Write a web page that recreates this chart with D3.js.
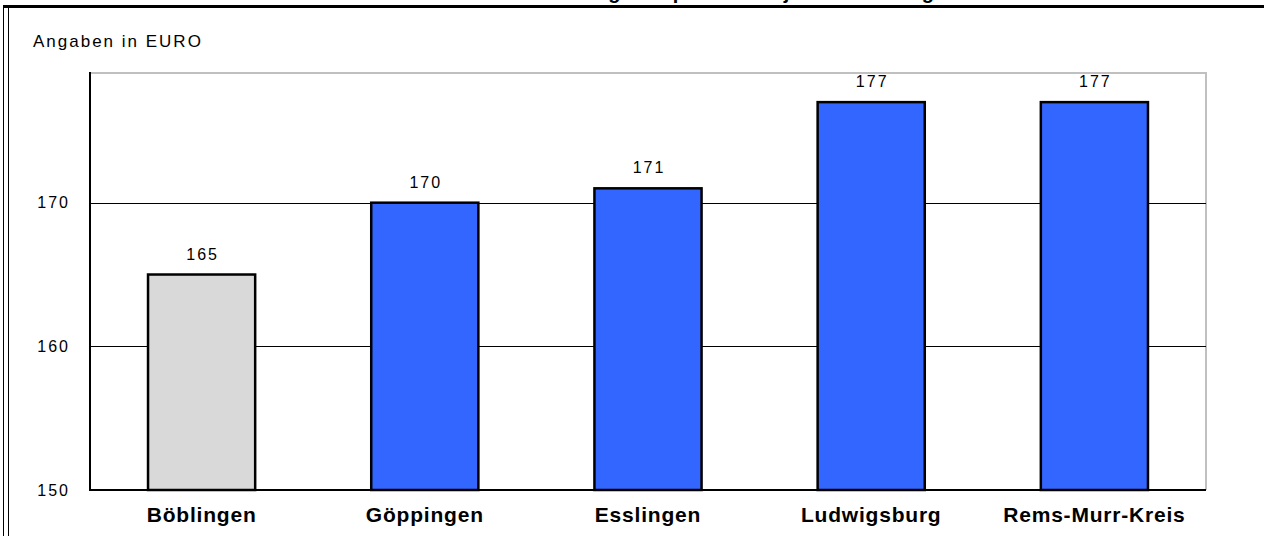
<!DOCTYPE html>
<html><head><meta charset="utf-8">
<script src="https://cdn.jsdelivr.net/npm/d3@7"></script>
<style>html,body{margin:0;padding:0;background:#fff;overflow:hidden}</style>
</head><body>
<svg id="c" width="1264" height="536"></svg>
<script>
const titleText = "Ausgaben pro Person je Kreis im Vergleich";
const unitLabel = "Angaben in EURO";
const categories = ["Böblingen","Göppingen","Esslingen","Ludwigsburg","Rems-Murr-Kreis"];
const values = [165,170,171,177,177];
const highlight = [true,false,false,false,false];
const yTicks = [150,160,170];

const FONT = "Liberation Sans, Arial, sans-serif";
const svg = d3.select("#c");
const L=90, R=1206, T=73, B=490;
const x = d3.scaleBand().domain(categories).range([L,R]).paddingInner(0.52).paddingOuter(0.26);
const y = d3.scaleLinear().domain([150,179]).range([B,T+0.4]);

// outer frame
svg.append("text").attr("x",775).attr("y",-1).attr("text-anchor","middle")
  .attr("font-family",FONT).attr("font-weight","bold").attr("font-size",20)
  .text(titleText);
svg.append("line").attr("x1",3).attr("x2",1264).attr("y1",6.5).attr("y2",6.5).attr("stroke","#000").attr("stroke-width",3);
svg.append("line").attr("x1",3.5).attr("x2",3.5).attr("y1",6).attr("y2",536).attr("stroke","#000").attr("stroke-width",1);
svg.append("line").attr("x1",8.5).attr("x2",8.5).attr("y1",8).attr("y2",536).attr("stroke","#000").attr("stroke-width",1);

svg.append("text").attr("x",33).attr("y",47).attr("font-family",FONT)
  .attr("font-size",17).attr("letter-spacing",2).attr("fill","#000").text(unitLabel);

// plot border
svg.append("line").attr("x1",L).attr("x2",R).attr("y1",T).attr("y2",T).attr("stroke","#c0c0c0").attr("stroke-width",2);
svg.append("line").attr("x1",R).attr("x2",R).attr("y1",T-1).attr("y2",B).attr("stroke","#c0c0c0").attr("stroke-width",2);

// gridlines
svg.append("g").selectAll("line").data(yTicks.filter(d=>d>150)).join("line")
  .attr("x1",L).attr("x2",R).attr("y1",d=>Math.round(y(d))+0.5).attr("y2",d=>Math.round(y(d))+0.5)
  .attr("stroke","#000").attr("stroke-width",1);

// y axis
const ya = svg.append("g").attr("transform",`translate(${L},0)`)
  .call(d3.axisLeft(y).tickValues(yTicks).tickSize(0).tickPadding(20).tickFormat(d3.format("d")));
ya.select(".domain").remove();
ya.selectAll("text").attr("font-family",FONT).attr("font-size",16).attr("letter-spacing",2).attr("fill","#000");
svg.append("line").attr("x1",L).attr("x2",L).attr("y1",T-1).attr("y2",B+1).attr("stroke","#000").attr("stroke-width",2);

// bars
svg.append("g").selectAll("rect").data(categories).join("rect")
  .attr("x",d=>x(d)).attr("width",x.bandwidth())
  .attr("y",(d,i)=>y(values[i])).attr("height",(d,i)=>B-y(values[i]))
  .attr("fill",(d,i)=>highlight[i]?"#d9d9d9":"#3366ff").attr("stroke","#000").attr("stroke-width",2.5);

// value labels
svg.append("g").selectAll("text").data(categories).join("text")
  .attr("x",d=>x(d)+x.bandwidth()/2+1).attr("y",(d,i)=>y(values[i])-15)
  .attr("text-anchor","middle").attr("font-family",FONT).attr("font-size",16).attr("letter-spacing",2)
  .text((d,i)=>values[i]);

// bottom axis line
svg.append("line").attr("x1",L).attr("x2",R).attr("y1",B).attr("y2",B).attr("stroke","#000").attr("stroke-width",2);

// x axis labels
const xa = svg.append("g").attr("transform",`translate(0,${B})`)
  .call(d3.axisBottom(x).tickSize(0).tickPadding(17));
xa.select(".domain").remove();
xa.selectAll("text").attr("font-family",FONT).attr("font-weight","bold")
  .attr("font-size",21).attr("letter-spacing",0.8).attr("fill","#000");
</script>
</body></html>
